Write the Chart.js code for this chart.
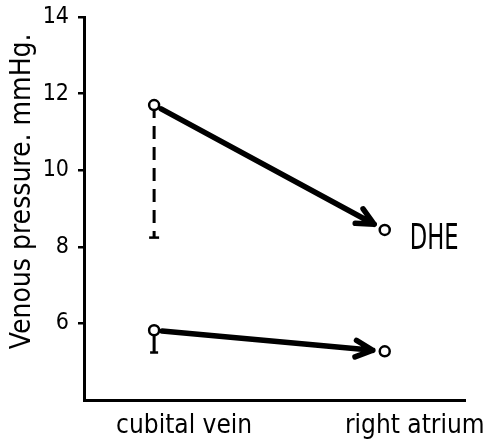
<!DOCTYPE html>
<html>
<head>
<meta charset="utf-8">
<script src="https://cdn.jsdelivr.net/npm/chart.js@4/dist/chart.umd.min.js"></script>
<style>
  html, body { margin: 0; padding: 0; background: #fff; }
</style>
</head>
<body>
<canvas id="chart" width="489" height="445"></canvas>
<script>
'use strict';
// data
var sites = ['cubital vein', 'right atrium'];
var dheValues = [11.7, 8.44];     // upper pair, joined by arrow
var dheDrop = [11.7, 8.24];       // dashed drop at cubital vein
var ctrlValues = [5.82, 5.27];    // lower pair
var ctrlDrop = [5.82, 5.24];
var yTicks = [6, 8, 10, 12, 14];
var seriesName = 'DHE';
var yTitle = 'Venous pressure. mmHg.';

var FONT = "'DejaVu Sans Condensed', 'Liberation Sans Narrow', sans-serif";
var canvas = document.getElementById('chart');
var ctx = canvas.getContext('2d');

function toPoints(values) {
  return values.map(function (v, i) { return { x: i, y: v }; });
}
function dropPoints(values) {
  return values.map(function (v) { return { x: 0, y: v }; });
}

// draws the arrows between the two sites, the DHE tag and the y title
var arrowPlugin = {
  id: 'arrows',
  beforeDatasetsDraw: function (chart) {
    var xs = chart.scales.x, ys = chart.scales.y;
    var c = chart.ctx;
    [dheValues, ctrlValues].forEach(function (vals) {
      var x0 = xs.getPixelForValue(0), y0 = ys.getPixelForValue(vals[0]);
      var x1 = xs.getPixelForValue(1), y1 = ys.getPixelForValue(vals[1]);
      var dx = x1 - x0, dy = y1 - y0, len = Math.sqrt(dx * dx + dy * dy);
      var ux = dx / len, uy = dy / len;
      var sx = x0 + ux * 8, sy = y0 + uy * 8;
      var ex = x1 - ux * 12, ey = y1 - uy * 12;
      c.save();
      c.strokeStyle = '#000';
      c.lineWidth = 5.5;
      c.lineCap = 'round';
      c.lineJoin = 'round';
      c.beginPath();
      c.moveTo(sx, sy);
      c.lineTo(ex, ey);
      var a = Math.atan2(uy, ux);
      [0.45, -0.45].forEach(function (d) {
        c.moveTo(ex, ey);
        c.lineTo(ex - 19 * Math.cos(a + d), ey - 19 * Math.sin(a + d));
      });
      c.stroke();
      c.restore();
    });
  },
  afterDatasetsDraw: function (chart) {
    var xs = chart.scales.x, ys = chart.scales.y;
    var c = chart.ctx;
    c.save();
    c.fillStyle = '#000';
    c.font = '35px ' + FONT;
    c.textAlign = 'left';
    c.textBaseline = 'middle';
    c.translate(xs.getPixelForValue(1) + 25, ys.getPixelForValue(dheValues[1]) + 10);
    c.scale(0.72, 1);
    c.fillText(seriesName, 0, 0);
    c.restore();

    // y title, a little above the middle of the axis as in the original
    c.save();
    c.fillStyle = '#000';
    c.font = '28px ' + FONT;
    c.textAlign = 'center';
    c.textBaseline = 'middle';
    c.translate(23, ys.getPixelForValue(9.45));
    c.rotate(-Math.PI / 2);
    c.fillText(yTitle, 0, 0);
    c.restore();
  }
};

var chart = new Chart(ctx, {
  type: 'scatter',
  data: {
    datasets: [
      {
        data: toPoints(dheValues),
        showLine: false,
        pointRadius: 5,
        pointBorderWidth: 2.5,
        pointBackgroundColor: '#fff',
        pointBorderColor: '#000',
        order: 0
      },
      {
        data: toPoints(ctrlValues),
        showLine: false,
        pointRadius: 5,
        pointBorderWidth: 2.5,
        pointBackgroundColor: '#fff',
        pointBorderColor: '#000',
        order: 0
      },
      {
        data: dropPoints(dheDrop),
        showLine: true,
        borderColor: '#000',
        borderWidth: 3,
        borderDash: [13, 8],
        pointStyle: 'line',
        pointRadius: [0, 5],
        pointBorderWidth: 2.5,
        pointBorderColor: '#000',
        order: 1
      },
      {
        data: dropPoints(ctrlDrop),
        showLine: true,
        borderColor: '#000',
        borderWidth: 3,
        pointStyle: 'line',
        pointRadius: [0, 4],
        pointBorderWidth: 2.5,
        pointBorderColor: '#000',
        order: 1
      }
    ]
  },
  options: {
    responsive: false,
    animation: false,
    devicePixelRatio: 1,
    layout: { padding: { left: 5, right: 24, top: 17, bottom: 0 } },
    plugins: { legend: { display: false }, tooltip: { enabled: false } },
    scales: {
      x: {
        type: 'linear',
        min: -0.304,
        max: 1.348,
        afterBuildTicks: function (s) { s.ticks = [{ value: 0 }, { value: 1 }]; },
        afterFit: function (s) { s.height = 45; },
        grid: { drawOnChartArea: false, drawTicks: false },
        border: { color: '#000', width: 3 },
        ticks: {
          color: '#000',
          font: { family: FONT, size: 26 },
          labelOffset: 30,
          padding: 11,
          maxRotation: 0,
          autoSkip: false,
          callback: function (v) { return sites[v]; }
        }
      },
      y: {
        min: 4,
        max: 14,
        afterBuildTicks: function (s) { s.ticks = yTicks.map(function (v) { return { value: v }; }); },
        afterFit: function (s) { s.width = 79; s.paddingTop = 0; },
        grid: { drawOnChartArea: false, color: '#000', lineWidth: 2.5, tickLength: 6 },
        border: { color: '#000', width: 3 },
        ticks: {
          color: '#000',
          font: { family: FONT, size: 23 },
          padding: 9
        },
        title: { display: false }
      }
    }
  },
  plugins: [arrowPlugin]
});
</script>
</body>
</html>
